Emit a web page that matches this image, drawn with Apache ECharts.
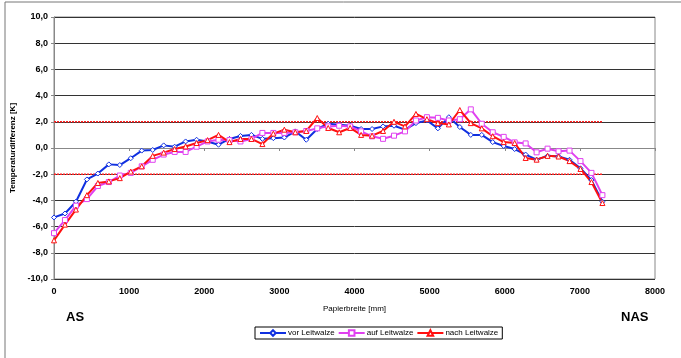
<!DOCTYPE html>
<html><head><meta charset="utf-8">
<script src="https://cdn.jsdelivr.net/npm/echarts@6/dist/echarts.min.js"></script>
<style>html,body{margin:0;padding:0;background:#fff}#c{width:681px;height:358px}</style>
</head><body><div id="c"></div>
<script>
// Positions along paper width (mm)
const positions = [0,146,292,438,584,730,876,1022,1168,1314,1460,1606,1752,1898,2044,2190,2336,2482,2628,2774,2920,3066,3212,3358,3504,3650,3796,3942,4088,4234,4380,4526,4672,4818,4964,5110,5256,5402,5548,5694,5840,5986,6132,6278,6424,6570,6716,6862,7008,7154,7300];
const vorLeitwalze = [-5.3,-5.0,-4.1,-2.4,-1.95,-1.25,-1.3,-0.78,-0.2,-0.15,0.2,0.1,0.5,0.63,0.5,0.25,0.69,0.92,1.0,0.7,0.75,0.8,1.27,0.63,1.45,1.85,1.78,1.7,1.45,1.45,1.65,1.7,1.4,1.9,2.1,1.5,2.35,1.6,1.0,1.0,0.45,0.15,-0.08,-0.5,-0.89,-0.6,-0.64,-0.9,-1.55,-2.45,-4.1];
const aufLeitwalze = [-6.5,-5.5,-4.4,-3.9,-2.9,-2.6,-2.1,-1.9,-1.4,-0.9,-0.5,-0.3,-0.3,0.1,0.5,0.63,0.6,0.5,0.69,1.15,1.15,1.15,1.2,1.3,1.5,1.65,1.7,1.65,1.27,0.89,0.7,0.94,1.27,2.1,2.35,2.3,2.1,2.2,2.95,1.85,1.2,0.85,0.43,0.35,-0.33,-0.05,-0.25,-0.2,-1.0,-1.9,-3.6];
const nachLeitwalze = [-7.05,-5.85,-4.7,-3.6,-2.67,-2.55,-2.3,-1.8,-1.4,-0.6,-0.35,-0.08,0.12,0.38,0.6,1.0,0.45,0.69,0.69,0.3,1.1,1.4,1.2,1.3,2.29,1.53,1.2,1.53,1.0,0.94,1.3,2.0,1.65,2.6,2.2,1.9,1.8,2.9,1.9,1.5,0.9,0.45,0.38,-0.76,-0.89,-0.6,-0.65,-1.0,-1.6,-2.6,-4.2];
const limitValues = [2, -2];
const limitRange = [0, 7300];
const seriesNames = ['vor Leitwalze','auf Leitwalze','nach Leitwalze'];

const chart = echarts.init(document.getElementById('c'));
const font = 'Liberation Sans, Arial, sans-serif';
function mk(name, vals, color, symbol, size){
  return {name:name,type:'line',data:positions.map((x,i)=>[x,vals[i]]),
    symbol:symbol,symbolSize:size,showSymbol:true,
    lineStyle:{color:color,width:2},itemStyle:{color:'#fff',borderColor:color,borderWidth:1},
    color:color,z:3};
}
const limits = limitValues.map(v=>({type:'line',data:limitRange.map(x=>[x,v]),symbol:'none',
  lineStyle:{color:'#ff2020',width:1.5,type:[2,1]},silent:true,z:2}));
chart.setOption({
  animation:false,
  grid:{left:54,right:26,top:17,bottom:79,show:true,borderColor:'#888',borderWidth:1},
  xAxis:{type:'value',min:0,max:8000,interval:1000,
    name:'Papierbreite [mm]',nameLocation:'middle',nameGap:26,
    nameTextStyle:{fontFamily:font,fontSize:8,color:'#000'},
    axisLine:{lineStyle:{color:'#888'}},axisTick:{show:true,length:3,lineStyle:{color:'#888'}},
    axisLabel:{fontFamily:font,fontSize:9,fontWeight:'bold',color:'#000',margin:8,formatter:v=>String(v)},
    splitLine:{show:false}},
  yAxis:{type:'value',min:-10,max:10,interval:2,
    name:'Temperaturdifferenz [K]',nameLocation:'middle',nameGap:33,
    nameTextStyle:{fontFamily:font,fontSize:8,fontWeight:'bold',color:'#000'},
    axisLine:{show:true,lineStyle:{color:'#888'}},axisTick:{show:true,length:3,lineStyle:{color:'#888'}},
    axisLabel:{fontFamily:font,fontSize:9,fontWeight:'bold',color:'#000',margin:6,
      formatter:v=>v.toFixed(1).replace('.',',')},
    splitLine:{show:true,lineStyle:{color:'#333',width:1}}},
  legend:{data:seriesNames,left:255,top:327,orient:'horizontal',
    borderColor:'#000',borderWidth:1,padding:[2,4],itemGap:3,itemWidth:26,itemHeight:7,
    textStyle:{fontFamily:font,fontSize:8,color:'#000',padding:[0,0,0,-3]}},
  graphic:[
    {type:'rect',shape:{x:5,y:2,width:720,height:420},style:{fill:'none',stroke:'#777',lineWidth:1},silent:true},
    {type:'text',left:66,top:311,style:{text:'AS',font:'bold 13px '+font,fill:'#000'}},
    {type:'text',left:621,top:311,style:{text:'NAS',font:'bold 13px '+font,fill:'#000'}}
  ],
  series:[
    ...limits,
    mk(seriesNames[0],vorLeitwalze,'#1030e0','diamond',5),
    mk(seriesNames[1],aufLeitwalze,'#e040f0','rect',5),
    mk(seriesNames[2],nachLeitwalze,'#ff1010','triangle',5)
  ]
});
</script></body></html>
